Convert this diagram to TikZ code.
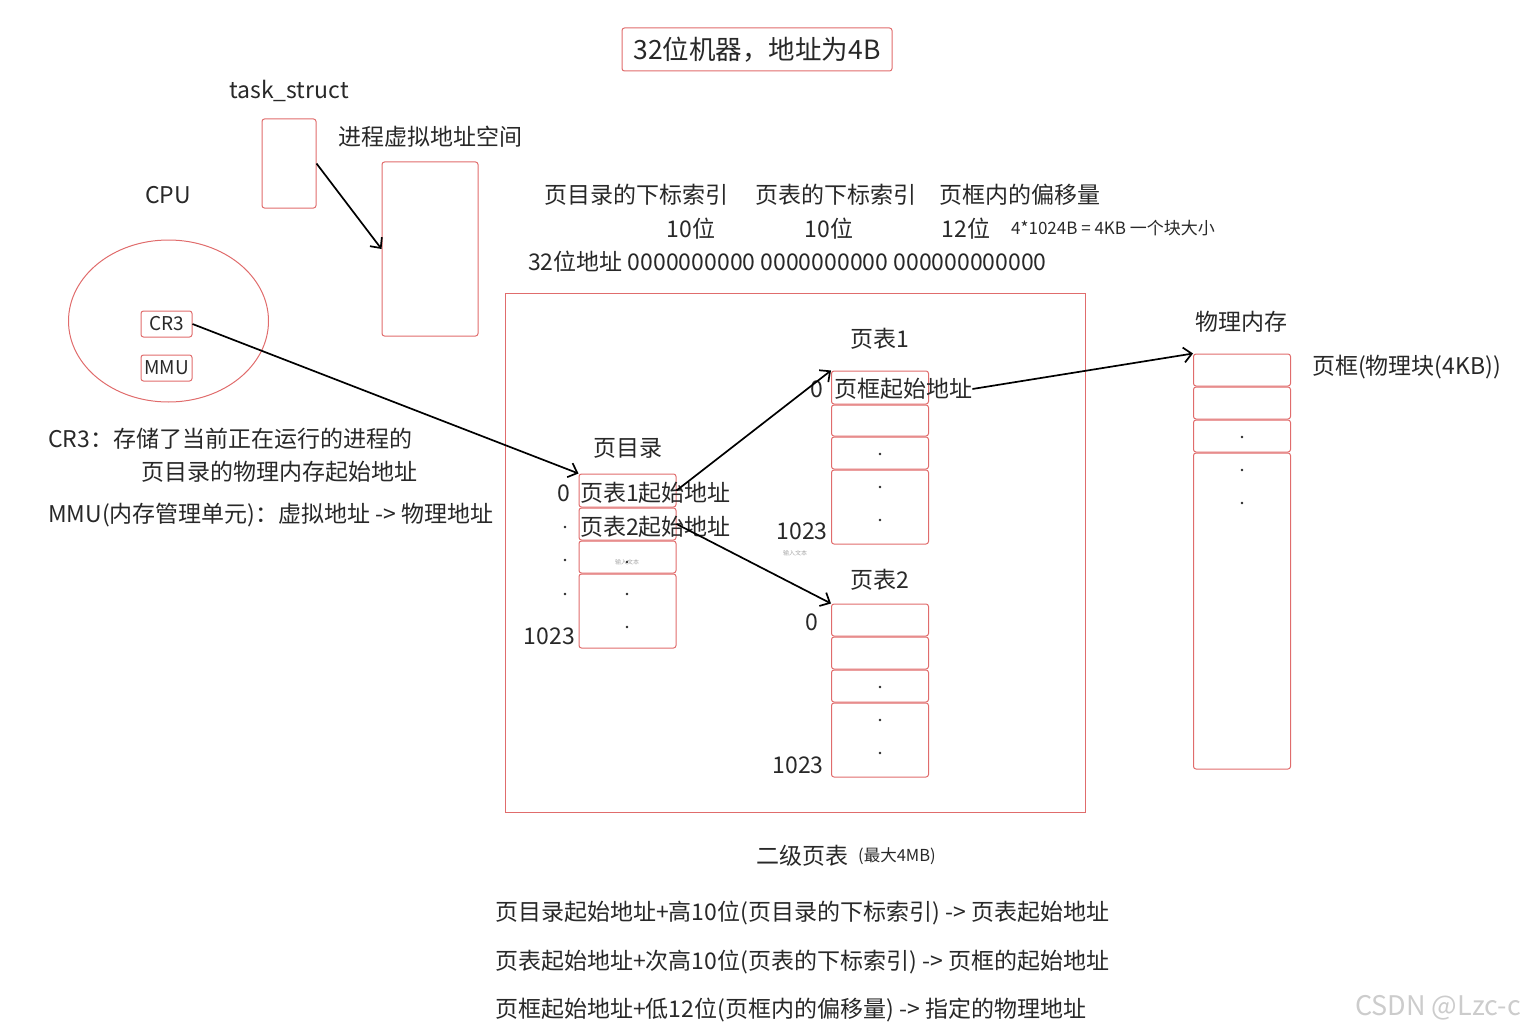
\documentclass[tikz,border=0pt]{standalone}
\usepackage{fontspec}
\setmainfont{Noto Sans CJK SC}
\usetikzlibrary{arrows.meta,shapes.geometric}
\definecolor{boxred}{RGB}{224,108,108}
\definecolor{ink}{RGB}{40,40,40}
\newcommand{\fsz}[1]{\fontsize{#1}{#1}\selectfont}
\tikzset{
  lbl/.style={inner sep=0pt, text=ink, font=\fsz{23}},
  small/.style={inner sep=0pt, text=ink, font=\fsz{17}},
  tiny/.style={inner sep=0pt, text=gray!70, font=\fsz{6}},
  redbox/.style={draw=boxred, line width=1pt, rounded corners=2.5pt, inner sep=0pt},
  cell/.style={redbox, minimum width=97pt, minimum height=#1},
  cell/.default=33pt,
  link/.style={draw=black, line width=1.7pt, -{Straight Barb[length=8pt,width=15pt,line width=1.7pt]}},
  dotmark/.style={fill=ink}
}
\begin{document}
\begin{tikzpicture}[x=1pt,y=-1pt]
\useasboundingbox (0,0) rectangle (1533,1035);
\node[redbox, minimum width=270pt, minimum height=43pt, text=ink, font=\fsz{26.5}] (title) at (757,49.5) {32位机器，地址为4B};
% process side
\node[lbl] (tslbl) at (289,91) {task\_struct};
\node[redbox, minimum width=54pt, minimum height=89pt] (ts) at (289,163.5) {};
\node[lbl] (vslbl) at (430,137) {进程虚拟地址空间};
\node[redbox, minimum width=96pt, minimum height=174pt] (vs) at (430,249) {};
\draw[link] (ts.east) -- (vs.west);
% cpu
\node[lbl] (cpulbl) at (168,195) {CPU};
\node[draw=boxred, line width=1pt, ellipse, minimum width=200pt, minimum height=162pt] (cpu) at (168.5,321) {};
\node[redbox, minimum width=51pt, minimum height=26pt, text=ink, font=\fsz{19}] (cr3) at (166.5,324) {CR3};
\node[redbox, minimum width=51pt, minimum height=26pt, text=ink, font=\fsz{19}] (mmu) at (166.5,368) {MMU};
\node[lbl, anchor=west] (cr3note) at (48,439) {CR3：存储了当前正在运行的进程的};
\node[lbl, anchor=west] (cr3note2) at (141,472) {页目录的物理内存起始地址};
\node[lbl, anchor=west] (mmunote) at (48,515) {MMU(内存管理单元)：虚拟地址 -> 物理地址};
% address layout
\node[lbl] (idx1) at (636,195) {页目录的下标索引};
\node[lbl] (idx2) at (836,195) {页表的下标索引};
\node[lbl] (idx3) at (1020,195) {页框内的偏移量};
\node[lbl] (bit1) at (691,229) {10位};
\node[lbl] (bit2) at (829,229) {10位};
\node[lbl] (bit3) at (966,229) {12位};
\node[small, anchor=west] (blk) at (1011,228) {4*1024B = 4KB 一个块大小};
\node[lbl, anchor=west] (addr) at (528,262) {32位地址 0000000000 0000000000 000000000000};
% two level table
\node[draw=boxred, line width=1pt, minimum width=580pt, minimum height=519pt] (frame) at (795,552.5) {};
\node[lbl] (pdlbl) at (628,448) {页目录};
\node[cell] (pd1) at (627.5,490.5) {};
\node[cell=32pt] (pd2) at (627.5,524) {};
\node[cell=32pt] (pd3) at (627.5,557) {};
\node[cell=74pt] (pd4) at (627.5,611) {};
\node[lbl, anchor=west] (pd1t) at (580,493) {页表1起始地址};
\node[lbl, anchor=west] (pd2t) at (580,527) {页表2起始地址};
\node[tiny] (pd3t) at (627,562) {输入文本};
\node[lbl] (pd0) at (564,493) {0};
\node[lbl, anchor=east] (pdn) at (575,636) {1023};
\node[lbl] (pt1lbl) at (880,339) {页表1};
\node[cell] (pt1a) at (880,387.5) {};
\node[cell=31pt] (pt1b) at (880,420.5) {};
\node[cell=32pt] (pt1c) at (880,453) {};
\node[cell=74pt] (pt1d) at (880,507) {};
\node[lbl, anchor=west] (pt1t) at (834,389) {页框起始地址};
\node[lbl] (pt10) at (817,389) {0};
\node[lbl] (pt1n) at (802,531) {1023};
\node[tiny] (pt1x) at (795,553) {输入文本};
\node[lbl] (pt2lbl) at (880,580) {页表2};
\node[cell=32pt] (pt2a) at (880,620) {};
\node[cell=32pt] (pt2b) at (880,653) {};
\node[cell=32pt] (pt2c) at (880,686) {};
\node[cell=74pt] (pt2d) at (880,740) {};
\node[lbl] (pt20) at (812,622) {0};
\node[lbl] (pt2n) at (798,765) {1023};
% physical memory
\node[lbl] (phlbl) at (1241,322) {物理内存};
\node[cell=32pt] (ph1) at (1242,370) {};
\node[cell=32pt] (ph2) at (1242,403) {};
\node[cell=32pt] (ph3) at (1242,436) {};
\node[cell=316pt] (ph4) at (1242,611) {};
\node[lbl, anchor=west] (pflbl) at (1312,367) {页框(物理块(4KB))};
\foreach \x/\y in {565/527, 565/560, 565/594, 627/562, 627/594, 627/627,
                   880/454, 880/487, 880/520, 880/687, 880/720, 880/753,
                   1242/437, 1242/470, 1242/503}
  \fill[dotmark] (\x,\y) circle (1.3pt);
\draw[link] (cr3.east) -- (pd1.north west);
\draw[link] (pd1.east) -- (pt1a.north west);
\draw[link] (pd2.east) -- (pt2a.north west);
\draw[link] (pt1t.east) -- (ph1.north west);
% notes below
\node[lbl, anchor=east] (lvl) at (849,856) {二级页表};
\node[inner sep=0pt, text=ink, font=\fsz{16.5}, anchor=west] (lvlmax) at (858,856) {(最大4MB)};
\node[lbl, anchor=west] (step1) at (495,913) {页目录起始地址+高10位(页目录的下标索引) -> 页表起始地址};
\node[lbl, anchor=west] (step2) at (495,962) {页表起始地址+次高10位(页表的下标索引) -> 页框的起始地址};
\node[lbl, anchor=west] (step3) at (495,1010) {页框起始地址+低12位(页框内的偏移量) -> 指定的物理地址};
\node[inner sep=0pt, text=gray!40, font=\fsz{27}, anchor=west] (mark) at (1355,1008) {CSDN @Lzc-c};
\end{tikzpicture}
\end{document}
